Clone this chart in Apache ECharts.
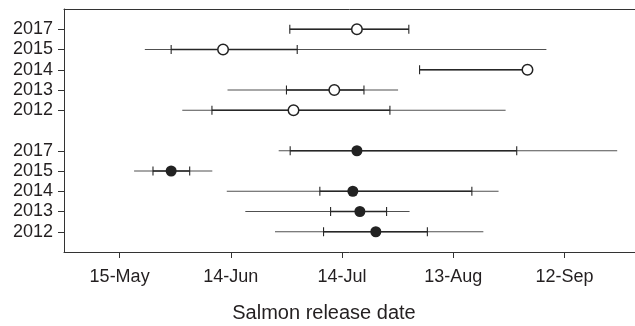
<!DOCTYPE html>
<html>
<head>
<meta charset="utf-8">
<script src="https://cdn.jsdelivr.net/npm/echarts@6/dist/echarts.min.js"></script>
<style>
  html, body { margin: 0; padding: 0; background: #fff; }
  #chart { width: 635px; height: 326px; }
</style>
</head>
<body>
<div id="chart"></div>
<script>
// rows, top to bottom: open circles (upper block) then filled circles (lower block)
const rowPos = [11, 10, 9, 8, 7, 5, 4, 3, 2, 1];
const rowYear = ['2017', '2015', '2014', '2013', '2012', '2017', '2015', '2014', '2013', '2012'];
const rowFilled = [false, false, false, false, false, true, true, true, true, true];

// release dates as day of year
const lowDay = [180.9, 141.8, 215.9, 164.1, 151.9, 177.9, 138.9, 163.9, 168.9, 176.9];
const q1Day = [180.9, 148.9, 215.9, 180.0, 159.9, 181.0, 144.0, 189.0, 191.9, 190.0];
const medianDay = [199.0, 162.9, 245.0, 192.9, 181.9, 199.0, 148.9, 197.9, 199.8, 204.1];
const q3Day = [213.0, 182.9, 245.0, 200.9, 207.9, 242.1, 153.9, 230.0, 207.0, 218.0];
const highDay = [213.0, 250.1, 245.0, 210.1, 239.1, 269.2, 160.0, 237.2, 213.2, 233.1];

// x axis ticks
const tickDay = [135, 165, 195, 225, 255];
const tickLabel = ['15-May', '14-Jun', '14-Jul', '13-Aug', '12-Sep'];

const ink = '#231f20';
const font = 'Liberation Sans';

const chart = echarts.init(document.getElementById('chart'));

const rangeData = rowPos.map((y, i) => [y, lowDay[i], q1Day[i], q3Day[i], highDay[i]]);
const openData = [];
const filledData = [];
rowPos.forEach((y, i) => {
  (rowFilled[i] ? filledData : openData).push([medianDay[i], y]);
});

function renderRange(params, api) {
  const y = api.value(0);
  const pLo = api.coord([api.value(1), y]);
  const pQ1 = api.coord([api.value(2), y]);
  const pQ3 = api.coord([api.value(3), y]);
  const pHi = api.coord([api.value(4), y]);
  const h = 4.5;
  return {
    type: 'group',
    children: [
      { type: 'line', shape: { x1: pLo[0], y1: pLo[1], x2: pHi[0], y2: pHi[1] },
        style: { stroke: '#505050', lineWidth: 1.2 } },
      { type: 'line', shape: { x1: pQ1[0], y1: pQ1[1], x2: pQ3[0], y2: pQ3[1] },
        style: { stroke: '#262626', lineWidth: 1.7 } },
      { type: 'line', shape: { x1: pQ1[0], y1: pQ1[1] - h, x2: pQ1[0], y2: pQ1[1] + h },
        style: { stroke: '#262626', lineWidth: 1.1 } },
      { type: 'line', shape: { x1: pQ3[0], y1: pQ3[1] - h, x2: pQ3[0], y2: pQ3[1] + h },
        style: { stroke: '#262626', lineWidth: 1.1 } },
    ],
  };
}

chart.setOption({
  animation: false,
  textStyle: { fontFamily: font },
  title: {
    text: 'Salmon release date',
    left: 324,
    top: 303,
    textAlign: 'center',
    padding: 0,
    textStyle: { fontFamily: font, fontSize: 20, fontWeight: 'normal', color: ink },
  },
  grid: { left: 64, right: 0, top: 9, bottom: 74 },
  xAxis: [
    {
      type: 'value',
      min: 120,
      max: 274,
      axisLine: { lineStyle: { color: '#333', width: 1 } },
      axisTick: { length: 6, lineStyle: { color: '#333' }, customValues: tickDay },
      axisLabel: {
        customValues: tickDay,
        margin: 16,
        fontSize: 18,
        color: ink,
        fontFamily: font,
        formatter: (v) => tickLabel[tickDay.indexOf(v)] || '',
      },
      splitLine: { show: false },
    },
    {
      type: 'value',
      position: 'top',
      min: 120,
      max: 274,
      axisLine: { show: true, lineStyle: { color: '#333', width: 1 } },
      axisTick: { show: false },
      axisLabel: { show: false },
      splitLine: { show: false },
    },
  ],
  yAxis: {
    type: 'value',
    min: 0,
    max: 12,
    axisLine: { show: true, lineStyle: { color: '#333', width: 1 } },
    axisTick: { show: true, length: 6, lineStyle: { color: '#333' }, customValues: rowPos },
    axisLabel: {
      customValues: rowPos,
      margin: 11,
      fontSize: 18,
      color: ink,
      fontFamily: font,
      formatter: (v) => rowYear[rowPos.indexOf(v)] || '',
    },
    splitLine: { show: false },
  },
  series: [
    {
      type: 'custom',
      renderItem: renderRange,
      data: rangeData,
      encode: { x: [1, 2, 3, 4], y: 0 },
      z: 2,
    },
    {
      type: 'scatter',
      data: openData,
      symbol: 'circle',
      symbolSize: 10.5,
      itemStyle: { color: '#fff', borderColor: '#222', borderWidth: 1.5, opacity: 1 },
      z: 3,
    },
    {
      type: 'scatter',
      data: filledData,
      symbol: 'circle',
      symbolSize: 11,
      itemStyle: { color: '#222', opacity: 1 },
      z: 3,
    },
  ],
});
</script>
</body>
</html>
